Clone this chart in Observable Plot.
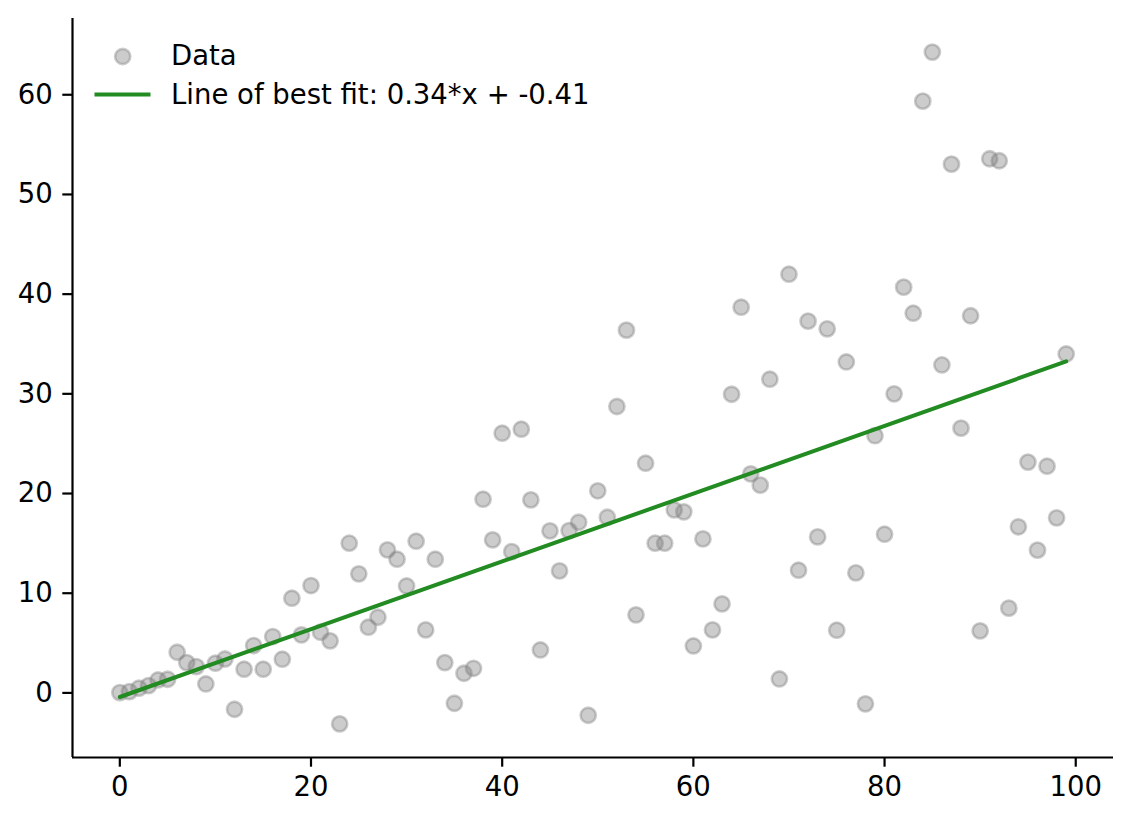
<!DOCTYPE html>
<html>
<head>
<meta charset="utf-8">
<script src="https://cdn.jsdelivr.net/npm/d3@7"></script>
<script src="https://cdn.jsdelivr.net/npm/@observablehq/plot@0.6"></script>
<style>
  html, body { margin: 0; padding: 0; background: #fff; }
  #wrap { position: relative; width: 1132px; height: 822px; font-family: "DejaVu Sans", sans-serif; }
  #legend { position: absolute; left: 0; top: 0; pointer-events: none; }
</style>
</head>
<body>
<div id="wrap"></div>
<script>
// x values 0..99
const xValues = d3.range(0, 100);
// y values
const yValues = [
  0.03, 0.13, 0.47, 0.73, 1.30, 1.37, 4.08, 3.04, 2.64, 0.90,
  2.98, 3.40, -1.64, 2.38, 4.75, 2.38, 5.65, 3.38, 9.50, 5.82,
  10.77, 6.09, 5.22, -3.11, 15.02, 11.94, 6.59, 7.59, 14.35, 13.41,
  10.73, 15.22, 6.32, 13.41, 3.04, -1.04, 1.97, 2.47, 19.43, 15.35,
  26.05, 14.17, 26.45, 19.36, 4.31, 16.25, 12.24, 16.28, 17.12, -2.24,
  20.27, 17.62, 28.73, 36.39, 7.83, 23.04, 15.02, 15.02, 18.36, 18.16,
  4.71, 15.45, 6.32, 8.93, 29.96, 38.69, 21.97, 20.84, 31.47, 1.40,
  42.00, 12.31, 37.29, 15.65, 36.52, 6.29, 33.20, 12.04, -1.10, 25.80,
  15.92, 30.00, 40.70, 38.09, 59.36, 64.28, 32.90, 53.04, 26.56, 37.83,
  6.22, 53.58, 53.38, 8.50, 16.66, 23.15, 14.32, 22.74, 17.56, 34.00
];
// line of best fit (from legend label)
const fitSlope = 0.34;
const fitIntercept = -0.41;
const fitXRange = [0, 99];
const fitLabel = "Line of best fit: 0.34*x + -0.41";
const dataLabel = "Data";
// tick labels
const xTicks = [0, 20, 40, 60, 80, 100];
const yTicks = [0, 10, 20, 30, 40, 50, 60];

const points = xValues.map((x, i) => ({x, y: yValues[i]}));
const fitLine = fitXRange.map(x => ({x, y: fitSlope * x + fitIntercept}));

// matplotlib-like 5% auto margins
function padDomain(vals) {
  const [lo, hi] = d3.extent(vals);
  const m = (hi - lo) * 0.05;
  return [lo - m, hi + m];
}
const xDomain = padDomain(xValues);
const yDomain = padDomain(yValues);

const FS = 27.5;
const R = 7.6;
const dotStyle = {fill: "gray", fillOpacity: 0.4, stroke: "gray", strokeOpacity: 0.4, strokeWidth: 2.6};
const green = "#228b22";

const chart = Plot.plot({
  width: 1132,
  height: 822,
  marginLeft: 72,
  marginTop: 18,
  marginRight: 19,
  marginBottom: 65,
  style: {fontFamily: "DejaVu Sans, sans-serif", fontSize: FS + "px", background: "#fff", color: "#000"},
  x: {domain: xDomain},
  y: {domain: yDomain},
  marks: [
    Plot.dot(points, {x: "x", y: "y", r: R, ...dotStyle}),
    Plot.line(fitLine, {x: "x", y: "y", stroke: green, strokeWidth: 4}),
    Plot.ruleX([xDomain[0]], {stroke: "#000", strokeWidth: 2.2}),
    Plot.ruleY([yDomain[0]], {stroke: "#000", strokeWidth: 2.2}),
    Plot.axisX({ticks: xTicks, tickSize: 9.7, tickPadding: 9, strokeWidth: 2.2, label: null, fontSize: FS, tickFormat: d => String(d)}),
    Plot.axisY({ticks: yTicks, tickSize: 9.7, tickPadding: 10, strokeWidth: 2.2, label: null, fontSize: FS, tickFormat: d => String(d)})
  ]
});

const wrap = document.getElementById("wrap");
wrap.appendChild(chart);

// legend overlay (inside plot, upper left)
const ns = "http://www.w3.org/2000/svg";
const leg = document.createElementNS(ns, "svg");
leg.setAttribute("id", "legend");
leg.setAttribute("width", 700);
leg.setAttribute("height", 130);
const circ = document.createElementNS(ns, "circle");
circ.setAttribute("cx", 122.7); circ.setAttribute("cy", 56.5); circ.setAttribute("r", R);
circ.setAttribute("fill", "gray"); circ.setAttribute("fill-opacity", 0.4);
circ.setAttribute("stroke", "gray"); circ.setAttribute("stroke-opacity", 0.4); circ.setAttribute("stroke-width", 2.6);
leg.appendChild(circ);
const ln = document.createElementNS(ns, "line");
ln.setAttribute("x1", 94.5); ln.setAttribute("x2", 150.5); ln.setAttribute("y1", 94.5); ln.setAttribute("y2", 94.5);
ln.setAttribute("stroke", green); ln.setAttribute("stroke-width", 4);
leg.appendChild(ln);
[[dataLabel, 64.5], [fitLabel, 104]].forEach(([t, y]) => {
  const tx = document.createElementNS(ns, "text");
  tx.setAttribute("x", 171);
  tx.setAttribute("y", y);
  tx.setAttribute("font-family", "DejaVu Sans, sans-serif");
  tx.setAttribute("font-size", FS);
  tx.setAttribute("fill", "#000");
  tx.textContent = t;
  leg.appendChild(tx);
});
wrap.appendChild(leg);
</script>
</body>
</html>
